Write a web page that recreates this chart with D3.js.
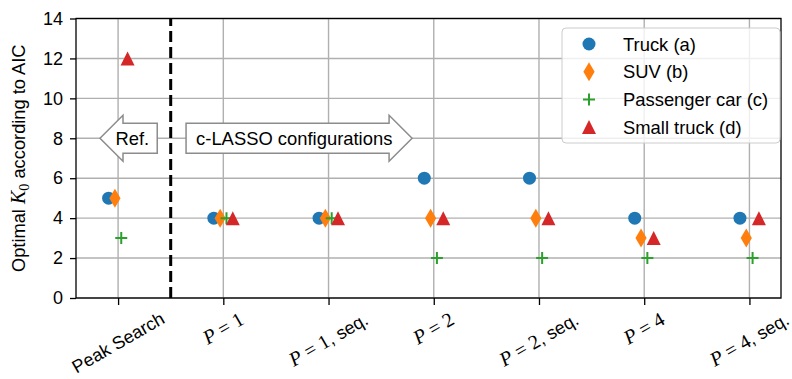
<!DOCTYPE html>
<html>
<head>
<meta charset="utf-8">
<script src="https://cdn.jsdelivr.net/npm/d3@7"></script>
<style>
  body { margin: 0; background: #fff; }
  svg text { font-family: "Liberation Sans", Arial, sans-serif; fill: #000; }
</style>
</head>
<body>
<div id="chart"></div>
<script>
// categories on the x axis
const categories = ['Peak Search', 'P = 1', 'P = 1, seq.', 'P = 2', 'P = 2, seq.', 'P = 4', 'P = 4, seq.'];

// optimal K0 per vehicle
const truck        = [5, 4, 4, 6, 6, 4, 4];
const suv          = [5, 4, 4, 4, 4, 3, 3];
const passengerCar = [3, 4, 4, 2, 2, 2, 2];
const smallTruck   = [12, 4, 4, 4, 4, 3, 4];

const seriesNames = ['Truck (a)', 'SUV (b)', 'Passenger car (c)', 'Small truck (d)'];
const yTicks = [0, 2, 4, 6, 8, 10, 12, 14];

const W = 792, H = 379;
const margin = {top: 18.5, right: 11, bottom: 81, left: 76};
const serif = '"Liberation Serif", "DejaVu Serif", serif';

const svg = d3.select('#chart').append('svg')
  .attr('width', W)
  .attr('height', H);

const x = d3.scaleLinear().domain([-0.4, 6.3]).range([margin.left, W - margin.right]);
const y = d3.scaleLinear().domain([0, 14]).range([H - margin.bottom, margin.top]);

// grid
const grid = svg.append('g').attr('stroke', '#b0b0b0').attr('stroke-width', 1.4);
grid.selectAll('.gx').data(d3.range(categories.length)).enter().append('line')
  .attr('x1', d => x(d)).attr('x2', d => x(d))
  .attr('y1', y(0)).attr('y2', y(14));
grid.selectAll('.gy').data(yTicks).enter().append('line')
  .attr('x1', x(-0.4)).attr('x2', x(6.3))
  .attr('y1', d => y(d)).attr('y2', d => y(d));

// separator between reference and c-LASSO
svg.append('line')
  .attr('x1', x(0.5)).attr('x2', x(0.5))
  .attr('y1', y(0)).attr('y2', y(14))
  .attr('stroke', '#000')
  .attr('stroke-width', 3)
  .attr('stroke-dasharray', '11,5');

// arrow annotations (data units)
const annotations = [
  {text: 'Ref.', dir: 'left', tip: -0.172, end: 0.372, at: 8},
  {text: 'c-LASSO configurations', dir: 'right', tip: 2.794, end: 0.646, at: 8}
];
const bodyHalf = 15, headHalf = 23, headLen = 23, pad = 9;

annotations.forEach(a => {
  const yc = y(a.at);
  const xt = x(a.tip), xe = x(a.end);
  const s = a.dir === 'left' ? 1 : -1;
  const xb = xt + s * headLen;
  const pts = [
    [xt, yc], [xb, yc - headHalf], [xb, yc - bodyHalf], [xe, yc - bodyHalf],
    [xe, yc + bodyHalf], [xb, yc + bodyHalf], [xb, yc + headHalf]
  ];
  svg.append('path')
    .attr('d', d3.line()(pts) + 'Z')
    .attr('fill', '#fff')
    .attr('stroke', '#8c8c8c')
    .attr('stroke-width', 1.5);
  svg.append('text')
    .attr('x', a.dir === 'left' ? xe - pad + 1 : xe + pad + 1)
    .attr('y', yc)
    .attr('dy', '0.36em')
    .attr('text-anchor', a.dir === 'left' ? 'end' : 'start')
    .attr('font-size', 18.4)
    .text(a.text);
});

// axes
const xAxis = svg.append('g')
  .attr('transform', `translate(0,${y(0)})`)
  .call(d3.axisBottom(x).tickValues(d3.range(categories.length)).tickSize(7).tickFormat(''));
xAxis.select('.domain').remove();
xAxis.selectAll('line').attr('stroke', '#000').attr('stroke-width', 1.3);

const yAxis = svg.append('g')
  .attr('transform', `translate(${x(-0.4)},0)`)
  .call(d3.axisLeft(y).tickValues(yTicks).tickSize(6).tickPadding(7));
yAxis.select('.domain').remove();
yAxis.selectAll('line').attr('stroke', '#000').attr('stroke-width', 1.3);
yAxis.selectAll('text')
  .attr('font-size', 18)
  .attr('font-family', '"Liberation Sans", Arial, sans-serif')
  .attr('fill', '#000');

// spines
svg.append('rect')
  .attr('x', x(-0.4)).attr('y', y(14))
  .attr('width', x(6.3) - x(-0.4)).attr('height', y(0) - y(14))
  .attr('fill', 'none').attr('stroke', '#000').attr('stroke-width', 1.3);

// rotated x tick labels
function fillLabel(t, label) {
  const m = label.match(/^P = (\d)(.*)$/);
  if (!m) { t.append('tspan').text(label); return; }
  t.append('tspan').attr('font-family', serif).attr('font-style', 'italic').attr('font-size', 20).text('P');
  t.append('tspan').attr('font-family', serif).attr('font-size', 20).text(' = ' + m[1]);
  if (m[2]) t.append('tspan').text(m[2]);
}
const labelTop = y(0) + 10;
categories.forEach((c, i) => {
  const g = svg.append('g');
  const t = g.append('text')
    .attr('text-anchor', 'middle')
    .attr('dy', '0.35em')
    .attr('font-size', 18)
    .attr('transform', 'rotate(-30)');
  fillLabel(t, c);
  const bb = t.node().getBBox();
  const h = bb.width * 0.5 + bb.height * 0.866;
  g.attr('transform', `translate(${x(i)},${labelTop + h / 2})`);
});

// y label
const yl = svg.append('text')
  .attr('transform', `translate(25,${(y(0) + y(14)) / 2}) rotate(-90)`)
  .attr('text-anchor', 'middle')
  .attr('font-size', 18.3);
yl.append('tspan').text('Optimal ');
yl.append('tspan').attr('font-family', serif).attr('font-style', 'italic').attr('font-size', 20).text('K');
yl.append('tspan').attr('font-family', serif).attr('font-size', 14).attr('dy', 4).text('0');
yl.append('tspan').attr('dy', -4).text(' according to AIC');

// markers
const colors = ['#1f77b4', '#ff7f0e', '#2ca02c', '#d62728'];
const offsets = [-0.09, -0.03, 0.03, 0.09];
const shapes = [
  () => d3.symbol(d3.symbolCircle, Math.PI * 6.5 * 6.5)(),
  () => 'M0,-9.5L5.6,0L0,9.5L-5.6,0Z',
  () => 'M-6,0L6,0M0,-6L0,6',
  () => 'M0,-7L7,7L-7,7Z'
];
const allSeries = [truck, suv, passengerCar, smallTruck];

function drawMarker(sel, k) {
  const p = sel.append('path').attr('d', shapes[k]());
  if (k === 2) p.attr('fill', 'none').attr('stroke', colors[k]).attr('stroke-width', 2);
  else p.attr('fill', colors[k]);
  return p;
}

allSeries.forEach((vals, k) => {
  const g = svg.append('g');
  vals.forEach((v, i) => {
    const m = g.append('g').attr('transform', `translate(${x(i + offsets[k])},${y(v)})`);
    drawMarker(m, k);
  });
});

// legend
const lg = svg.append('g').attr('transform', 'translate(562,28)');
lg.append('rect')
  .attr('width', 218).attr('height', 115)
  .attr('rx', 4)
  .attr('fill', '#fff').attr('fill-opacity', 0.8)
  .attr('stroke', '#cccccc').attr('stroke-width', 1);
seriesNames.forEach((name, k) => {
  const row = lg.append('g').attr('transform', `translate(27,${16 + k * 27.7})`);
  drawMarker(row, k);
  row.append('text')
    .attr('x', 34).attr('dy', '0.36em')
    .attr('font-size', 18.4)
    .text(name);
});
</script>
</body>
</html>
